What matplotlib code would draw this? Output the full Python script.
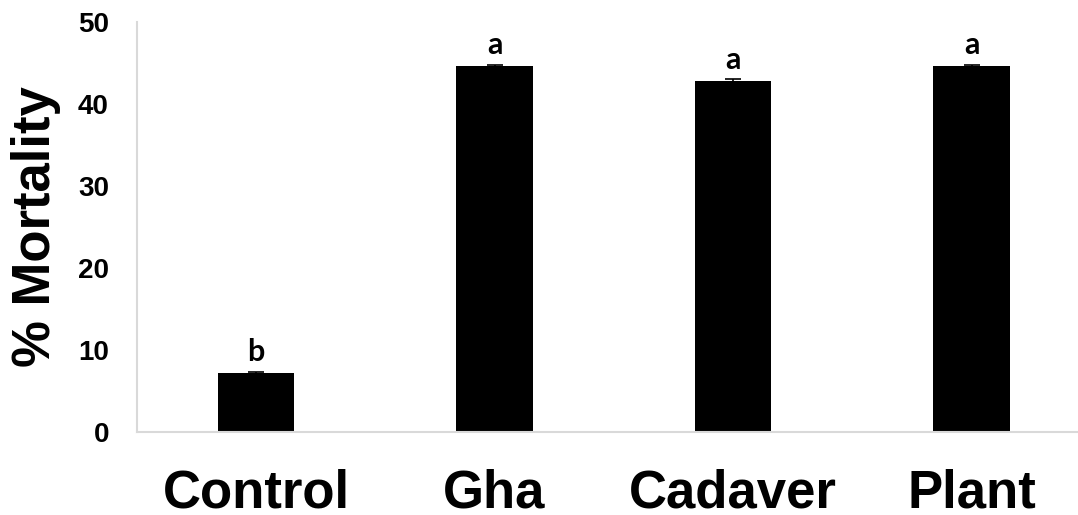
import matplotlib
matplotlib.use("Agg")
import matplotlib.pyplot as plt

categories = ["Control", "Gha", "Cadaver", "Plant"]
mortality = [7.15, 44.65, 42.85, 44.65]
errors = [0.15, 0.15, 0.15, 0.15]
letters = ["b", "a", "a", "a"]
yticks = [0, 10, 20, 30, 40, 50]

plt.rcParams['font.family'] = ['Liberation Sans', 'DejaVu Sans']

fig = plt.figure(figsize=(10.78, 5.15), dpi=100)
# category spacing ~238.5 px, first centre at 256 px
left_px = 256 - 119.25
right_px = 971.5 + 119.25
ax = fig.add_axes([left_px/1078, (515-431.5)/515, (right_px-left_px)/1078, (431.5-22)/515])

x = list(range(len(categories)))
ax.bar(x, mortality, width=0.32, color='black', yerr=errors,
       error_kw=dict(ecolor='black', capsize=6, elinewidth=1.2, capthick=1.2))

for xi, v, e, l in zip(x, mortality, errors, letters):
    ax.annotate(l, (xi, v + e), xytext=(0, 4), textcoords='offset points',
                ha='center', va='bottom', fontsize=22, fontweight='bold',
                family=['Lato', 'DejaVu Sans'])

ax.set_xlim(-0.5, 3.5)
ax.set_ylim(0, 50)
ax.set_yticks(yticks)
ax.set_yticklabels([str(t) for t in yticks], fontsize=20, fontweight='bold')
ax.set_xticks(x)
ax.set_xticklabels(categories, fontsize=38, fontweight='bold')
ax.tick_params(axis='both', length=0)
ax.tick_params(axis='y', pad=20)
ax.tick_params(axis='x', pad=27)
ax.set_ylabel("% Mortality", fontsize=38, fontweight='bold', labelpad=12)

for s in ['top', 'right']:
    ax.spines[s].set_visible(False)
for s in ['left', 'bottom']:
    ax.spines[s].set_color('#d9d9d9')
    ax.spines[s].set_linewidth(1.5)

fig.savefig("out.png", dpi=100)
